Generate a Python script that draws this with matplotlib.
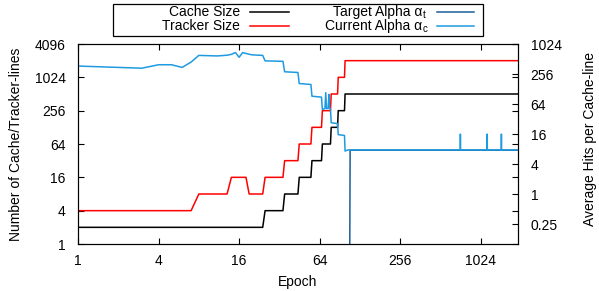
import matplotlib
matplotlib.use("Agg")
import matplotlib.pyplot as plt
from matplotlib.lines import Line2D
from matplotlib.patches import Rectangle

plt.rcParams['font.family'] = ['Liberation Sans', 'DejaVu Sans']

# data (epoch, value pairs)
cache_epoch = [1, 24, 25, 34, 35, 44, 45, 55, 56, 66, 67, 77, 78, 87, 88, 98, 99, 1940]
cache_size = [2, 2, 4, 4, 8, 8, 16, 16, 32, 32, 64, 64, 128, 128, 256, 256, 512, 512]

tracker_epoch = [1, 7, 8, 13, 14, 18, 19, 24, 25, 34, 35, 44, 45, 55, 56, 66, 67,
                 77, 78, 87, 88, 98, 99, 1940]
tracker_size = [4, 4, 8, 8, 16, 16, 8, 8, 16, 16, 32, 32, 64, 64, 128, 128, 256,
                256, 512, 512, 1024, 1024, 2048, 2048]

current_epoch = [1, 3, 4, 5, 6, 7, 8, 11, 13, 14, 15, 16, 17, 18, 20, 24, 25, 34,
                 35, 44, 45, 55, 56, 66, 67, 70, 71, 72, 74, 75, 76, 77, 78, 87,
                 88, 98, 99, 104, 719, 720, 721, 1142, 1143, 1144, 1457, 1458,
                 1459, 1940]
current_alpha = [370, 335, 393, 393, 347, 445, 605, 590, 610, 635, 690, 555, 690,
                 660, 620, 605, 470, 460, 284, 275, 165, 158, 92, 88, 50, 52, 108,
                 52, 52, 100, 53, 50, 27, 26, 15.6, 15, 7.3, 7.7, 7.7, 16, 7.7,
                 7.7, 16, 7.7, 7.7, 16, 7.7, 7.7]

target_epoch = [107, 108, 1940]
target_alpha = [0.01, 7.6, 7.6]

W, H = 599, 291
fig = plt.figure(figsize=(W / 100, H / 100), dpi=100)
ax = fig.add_axes([78 / W, 1 - 244 / H, 440 / W, 200 / H])
ax2 = ax.twinx()

c_cache, c_tracker, c_target, c_current = "black", "#ff0000", "#1c5f9a", "#1e9be0"

ax.plot(cache_epoch, cache_size, color=c_cache, lw=1.1)
ax.plot(tracker_epoch, tracker_size, color=c_tracker, lw=1.1)
ax2.plot(target_epoch, target_alpha, color=c_target, lw=1.1, zorder=1)
ax2.plot(current_epoch, current_alpha, color=c_current, lw=1.1, zorder=2)

ax.set_xscale("log", base=2)
ax.set_yscale("log", base=2)
ax2.set_yscale("log", base=2)
ax.set_xlim(1, 1940)
ax.set_ylim(1, 4096)
ax2.set_ylim(0.1, 1024)

xt = [1, 4, 16, 64, 256, 1024]
ax.set_xticks(xt)
ax.set_xticklabels([str(v) for v in xt])
yt = [1, 4, 16, 64, 256, 1024, 4096]
ax.set_yticks(yt)
ax.set_yticklabels([str(v) for v in yt])
y2t = [0.25, 1, 4, 16, 64, 256, 1024]
ax2.set_yticks(y2t)
ax2.set_yticklabels(["0.25", "1", "4", "16", "64", "256", "1024"])
for a in (ax, ax2):
    a.minorticks_off()

ax.tick_params(direction="in", length=4, width=0.8, labelsize=10, top=True, right=True, pad=7)
ax.tick_params(axis="y", pad=9)
ax2.tick_params(direction="in", length=4, width=0.8, labelsize=10, pad=9)

ax.set_xlabel("Epoch", fontsize=10, labelpad=5)
ax.set_ylabel("Number of Cache/Tracker-lines", fontsize=10, labelpad=8)
fig.text(590 / W, 1 - 139 / H, "Average Hits per Cache-line", fontsize=10,
         rotation=90, ha="center", va="center")

# legend box drawn by hand so the labels sit right-aligned before the samples
fig.patches.append(Rectangle((113 / W, 1 - 36 / H), 370 / W, 32 / H,
                             transform=fig.transFigure, fill=False,
                             edgecolor="black", lw=0.9))
entries = [("Cache Size", "", c_cache, 240, 250, 289, 12),
           ("Tracker Size", "", c_tracker, 240, 250, 289, 26),
           ("Target Alpha \u03b1", "t", c_target, 422, 437, 474, 12),
           ("Current Alpha \u03b1", "c", c_current, 422, 437, 474, 26)]
for label, sub, col, tx, x0, x1, yy in entries:
    fig.text(tx / W, 1 - (yy + 4) / H, label, fontsize=10, ha="right", va="baseline")
    if sub:
        fig.text((tx + 0.5) / W, 1 - (yy + 6.5) / H, sub, fontsize=7,
                 ha="left", va="baseline")
    fig.lines.append(Line2D([x0 / W, x1 / W], [1 - yy / H, 1 - yy / H],
                            transform=fig.transFigure, color=col, lw=1.1))

fig.savefig("out.png", dpi=100)
